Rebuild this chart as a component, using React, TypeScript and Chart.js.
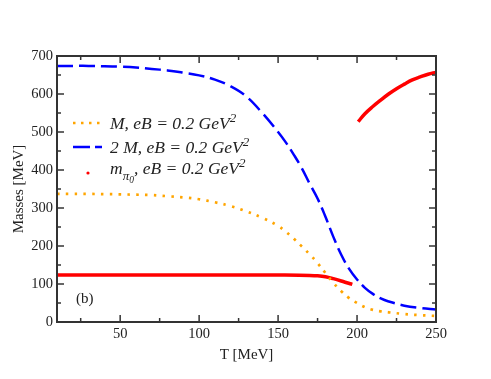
import React, { useEffect, useRef } from "react";
import { Chart, registerables } from "chart.js";

Chart.register(...registerables);

const T_MASS = [10, 20, 30, 40, 50, 60, 70, 80, 90, 100, 110, 120, 130, 140, 150, 155, 160, 165, 170, 175, 180, 185, 190, 195, 200, 205, 210, 215, 220, 230, 240, 250];
const TWO_M = [674, 674, 674, 673, 672, 670, 666, 662, 656, 649, 638, 620, 593, 550, 500, 472, 440, 405, 364, 325, 277, 224, 177, 140, 112, 90, 74, 62, 54, 43, 37, 33];
const M = [337, 337, 337, 336.5, 336, 335, 334, 331, 328, 323, 315, 305, 291, 274, 253, 237, 219, 199, 178, 155, 129, 103, 81, 63, 50, 39, 32, 28, 25.5, 21, 18, 16];
const T_PI_LOW = [10, 50, 100, 150, 170, 175, 180, 185, 190, 193, 197];
const PI_LOW = [124, 124, 124, 123.5, 122.5, 121.5, 119, 114, 108, 104, 99];
const T_PI_HIGH = [200.7, 205, 210, 215, 220, 225, 230, 235, 240, 245, 250];
const PI_HIGH = [527, 548, 567, 584, 600, 614, 626, 637, 645, 652, 657];

const X_MAJOR = [50, 100, 150, 200, 250];
const X_MINOR = [25, 75, 125, 175, 225];
const Y_MAJOR = [0, 100, 200, 300, 400, 500, 600, 700];
const Y_MINOR = [50, 150, 250, 350, 450, 550, 650];

const ORANGE = "#ffa500";
const BLUE = "#0000ff";
const RED = "#ff0000";
const SERIF = "'Liberation Serif', 'DejaVu Serif', serif";

const pts = (xs: number[], ys: number[]) => xs.map((x, i) => ({ x, y: ys[i] }));

const framePlugin = {
  id: "frame",
  afterDatasetsDraw(chart: any) {
    const { ctx, chartArea, scales } = chart;
    const { left, right, top, bottom } = chartArea;
    const x = scales.x;
    const y = scales.y;
    ctx.save();
    ctx.strokeStyle = "#333333";
    ctx.lineWidth = 1.5;
    const tick = (x1: number, y1: number, x2: number, y2: number) => {
      ctx.beginPath();
      ctx.moveTo(x1, y1);
      ctx.lineTo(x2, y2);
      ctx.stroke();
    };
    X_MAJOR.forEach((v) => {
      const p = x.getPixelForValue(v);
      tick(p, bottom, p, bottom - 7);
      tick(p, top, p, top + 7);
    });
    X_MINOR.forEach((v) => {
      const p = x.getPixelForValue(v);
      tick(p, bottom, p, bottom - 4);
      tick(p, top, p, top + 4);
    });
    Y_MAJOR.forEach((v) => {
      const p = y.getPixelForValue(v);
      tick(left, p, left + 7, p);
      tick(right, p, right - 7, p);
    });
    Y_MINOR.forEach((v) => {
      const p = y.getPixelForValue(v);
      tick(left, p, left + 4, p);
      tick(right, p, right - 4, p);
    });
    ctx.lineWidth = 2;
    ctx.strokeRect(left, top, right - left, bottom - top);

    // Legend
    const sx0 = 73, sx1 = 102, tx = 110;
    const rows = [123, 147, 171];
    ctx.lineWidth = 2.7;
    ctx.strokeStyle = ORANGE;
    ctx.setLineDash([2.5, 5.5]);
    tick(sx0, rows[0], sx1, rows[0]);
    ctx.strokeStyle = BLUE;
    ctx.lineWidth = 2.5;
    ctx.setLineDash([17, 5]);
    tick(sx0, rows[1], sx1, rows[1]);
    ctx.setLineDash([]);
    ctx.fillStyle = RED;
    ctx.beginPath();
    ctx.arc(88, rows[2] + 2, 1.6, 0, Math.PI * 2);
    ctx.fill();

    ctx.fillStyle = "#222222";
    ctx.textBaseline = "alphabetic";
    ctx.textAlign = "left";
    const main = `italic 17.5px ${SERIF}`;
    const sup = `italic 13px ${SERIF}`;
    const drawParts = (x0: number, base: number, parts: [string, string, number][]) => {
      let cx = x0;
      parts.forEach(([txt, font, dy]) => {
        ctx.font = font;
        ctx.fillText(txt, cx, base + dy);
        cx += ctx.measureText(txt).width;
      });
    };
    drawParts(tx, rows[0] + 5.5, [["M, eB = 0.2 GeV", main, 0], ["2", sup, -7]]);
    drawParts(tx, rows[1] + 5.5, [["2 M, eB = 0.2 GeV", main, 0], ["2", sup, -7]]);
    drawParts(tx, rows[2] + 3, [
      ["m", main, 0],
      ["π", `italic 13px ${SERIF}`, 6],
      ["0", `italic 9.5px ${SERIF}`, 9],
      [", eB = 0.2 GeV", main, 0],
      ["2", sup, -7],
    ]);

    ctx.font = `15px ${SERIF}`;
    ctx.fillStyle = "#222222";
    ctx.textBaseline = "middle";
    ctx.fillText("(b)", 76, 299);
    ctx.restore();
  },
};

export default function App() {
  const ref = useRef<HTMLCanvasElement | null>(null);
  useEffect(() => {
    if (!ref.current) return;
    const line = (data: any, color: string, width: number, dash: number[], mono = false) => ({
      data,
      borderColor: color,
      backgroundColor: color,
      borderWidth: width,
      borderDash: dash,
      pointRadius: 0,
      showLine: true,
      fill: false,
      tension: 0.4,
      cubicInterpolationMode: mono ? "monotone" : "default",
    });
    const chart = new Chart(ref.current, {
      type: "scatter",
      data: {
        datasets: [
          line(pts(T_MASS, M), ORANGE, 2.7, [2.5, 6.3]),
          line(pts(T_MASS, TWO_M), BLUE, 2.5, [16, 6]),
          line(pts(T_PI_LOW, PI_LOW), RED, 3.5, [], true),
          line(pts(T_PI_HIGH, PI_HIGH), RED, 3.5, []),
        ] as any,
      },
      options: {
        animation: false,
        responsive: false,
        events: [],
        layout: { padding: { left: 0, top: 56, right: 55, bottom: 0 } },
        plugins: { legend: { display: false }, tooltip: { enabled: false } },
        scales: {
          x: {
            type: "linear",
            min: 10,
            max: 250,
            afterBuildTicks: (s: any) => {
              s.ticks = X_MAJOR.map((v) => ({ value: v }));
            },
            afterFit: (s: any) => {
              s.height = 57;
            },
            grid: { display: false, drawTicks: false },
            border: { display: false },
            ticks: { color: "#222222", font: { family: SERIF, size: 14.5 }, padding: 3, maxRotation: 0 },
            title: {
              display: true,
              text: "T [MeV]",
              color: "#222222",
              font: { family: SERIF, size: 15 },
              padding: { top: 0, bottom: 15 },
            },
          },
          y: {
            type: "linear",
            min: 0,
            max: 700,
            afterBuildTicks: (s: any) => {
              s.ticks = Y_MAJOR.map((v) => ({ value: v }));
            },
            afterFit: (s: any) => {
              s.width = 57;
            },
            grid: { display: false, drawTicks: false },
            border: { display: false },
            ticks: { color: "#222222", font: { family: SERIF, size: 14.5 }, padding: 4 },
            title: {
              display: true,
              text: "Masses [MeV]",
              color: "#222222",
              font: { family: SERIF, size: 15 },
              padding: { top: 10, bottom: 0 },
            },
          },
        },
      } as any,
      plugins: [framePlugin],
    });
    return () => chart.destroy();
  }, []);
  return (
    <div style={{ position: "absolute", left: 0, top: 0, width: 491, height: 379, background: "#fff" }}>
      <canvas ref={ref} width={491} height={379} style={{ display: "block" }} />
    </div>
  );
}
